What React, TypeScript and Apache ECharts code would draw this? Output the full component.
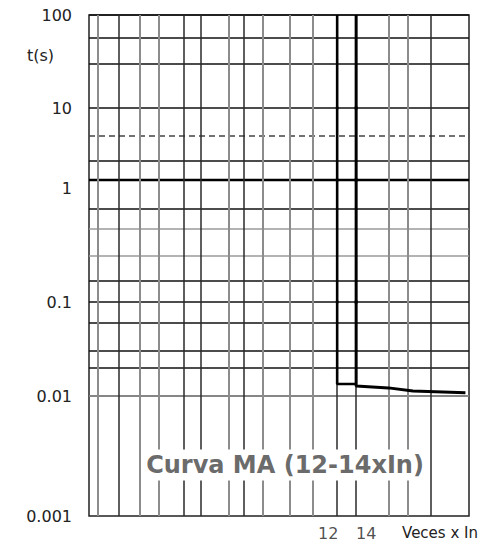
import React, { useEffect, useRef } from 'react';
import * as echarts from 'echarts';

// Y tick labels (log decades)
const yTickLabels = ['0.001', '0.01', '0.1', '1', '10', '100'];
const yTickExps = [-3, -2, -1, 0, 1, 2];
// Top value of each decade band, top to bottom
const decadeTops = [100, 10, 1, 0.1, 0.01];
// Minor horizontal grid values inside each decade band
const hGridLines = [
  [56.6, 29.7],
  [4.09, 1.84],
  [0.578, 0.397, 0.243, 0.151],
  [0.0583, 0.0301, 0.0176],
  [0.00585, 0.00398, 0.00256, 0.00156],
];
const hFaint = [0.397, 0.243, 0.00585, 0.00398];
const hDotted = [4.09];
// Vertical grid values (Veces x In)
const vGridDark = [2.03, 3.44, 3.98, 5.64, 12, 14, 25.7];
const vGridFaint = [1.72, 2.42, 2.83, 4.99, 6.58, 8.19, 9.88, 18.2, 21.3];
const xTickLabels = [12, 14];
const xMin = 1.6;
const xMax = 35;
// Curve MA boundaries: [multiple of In, t(s)]
const curve12 = [[12, 100], [12, 0.0134], [14, 0.0134]];
const curve14 = [[14, 100], [14, 0.0128], [18.2, 0.0122], [22.2, 0.0113], [34, 0.0108]];

const FONT = 'DejaVu Sans';

export default function App() {
  const ref = useRef<HTMLDivElement>(null);
  useEffect(() => {
    const chart = echarts.init(ref.current!, null, { renderer: 'svg' });
    const L = 89, W = 380;
    const bands = [[15, 93], [108, 72], [180, 122], [302, 94], [396, 120]];
    const grids: any[] = bands.map(([top, h]) => ({ left: L, width: W, top, height: h, show: false }));
    grids.push({ left: L, width: W, top: 15, height: 501, show: true, borderColor: '#222', borderWidth: 1.5, backgroundColor: 'transparent' });

    const labelFor = (v: number) => {
      const e = Math.round(Math.log10(v));
      const i = yTickExps.indexOf(e);
      return i >= 0 ? yTickLabels[i] : '';
    };

    const xAxes: any[] = grids.map((_, i) => ({ type: 'log', logBase: 10, min: xMin, max: xMax, gridIndex: i, show: false }));
    const yAxes: any[] = decadeTops.map((top, i) => ({
      type: 'log', logBase: 10, min: top / 10, max: top, gridIndex: i,
      axisLine: { show: false }, axisTick: { show: false }, splitLine: { show: false },
      axisLabel: {
        showMaxLabel: true, showMinLabel: i === decadeTops.length - 1,
        formatter: labelFor, margin: 17, fontFamily: FONT, fontSize: 16, color: '#222',
        verticalAlign: i === 2 ? 'top' : 'middle',
      },
    }));
    yAxes.push({ type: 'value', min: 0, max: 1, gridIndex: 5, show: false });

    const hStyle = (v: number, boundary: boolean) => {
      if (hFaint.includes(v)) return { color: '#9a9a9a', width: 1.5, type: 'solid' };
      if (hDotted.includes(v)) return { color: '#444', width: 1.5, type: [6, 4] };
      if (boundary && v === 1) return { color: '#000', width: 2.4, type: 'solid' };
      return { color: '#111', width: 1.7, type: 'solid' };
    };

    const series: any[] = [];
    decadeTops.forEach((top, i) => {
      const lines: any[] = [{ yAxis: top, lineStyle: hStyle(top, true) }];
      if (i === decadeTops.length - 1) lines.push({ yAxis: top / 10, lineStyle: hStyle(top / 10, true) });
      hGridLines[i].forEach((v) => lines.push({ yAxis: v, lineStyle: hStyle(v, false) }));
      series.push({
        type: 'line', xAxisIndex: i, yAxisIndex: i, data: curve12, showSymbol: false, clip: true, z: 10,
        lineStyle: { color: '#000', width: 2.6 },
        markLine: { silent: true, symbol: ['none', 'none'], label: { show: false }, data: lines, animation: false },
      });
      series.push({
        type: 'line', xAxisIndex: i, yAxisIndex: i, data: curve14, showSymbol: false, clip: true, z: 10,
        lineStyle: { color: '#000', width: 3 },
      });
    });

    const vLines = [
      ...vGridDark.map((v) => ({ xAxis: v, lineStyle: { color: '#2a2a2a', width: 1.5, type: 'solid' } })),
      ...vGridFaint.map((v) => ({ xAxis: v, lineStyle: { color: '#8c8c8c', width: 2, type: 'solid' } })),
    ];
    const labelOffsets = [[-9, 0], [10, 0]];
    series.push({
      type: 'scatter', xAxisIndex: 5, yAxisIndex: 5, symbolSize: 1, itemStyle: { color: 'rgba(0,0,0,0)' },
      data: xTickLabels.map((v, k) => ({
        value: [v, 0],
        label: { show: true, position: 'bottom', distance: 9, offset: labelOffsets[k], formatter: String(v), fontFamily: FONT, fontSize: 16, lineHeight: 16, color: '#222' },
      })),
      markLine: { silent: true, symbol: ['none', 'none'], label: { show: false }, data: vLines, animation: false },
    });

    chart.setOption({
      animation: false,
      backgroundColor: '#fff',
      grid: grids,
      xAxis: xAxes,
      yAxis: yAxes,
      series,
      graphic: [
        { type: 'text', x: 27, y: 55, z: 100, style: { text: 't(s)', font: `16px "${FONT}"`, fill: '#222', align: 'left', verticalAlign: 'middle' } },
        { type: 'text', x: 478, y: 533, z: 100, style: { text: 'Veces x In', font: `15px "${FONT}"`, fill: '#222', align: 'right', verticalAlign: 'middle' } },
        {
          type: 'text', x: 285, y: 465, z: 100,
          style: {
            text: 'Curva MA (12-14xIn)', font: `bold 24px "${FONT}"`, fill: '#6b6b6b', align: 'center', verticalAlign: 'middle',
            backgroundColor: '#fff', padding: [4, 3, 3, 3],
          },
        },
      ],
    });
    return () => chart.dispose();
  }, []);
  return <div ref={ref} style={{ position: 'fixed', left: 0, top: 0, width: 490, height: 543 }} />;
}
